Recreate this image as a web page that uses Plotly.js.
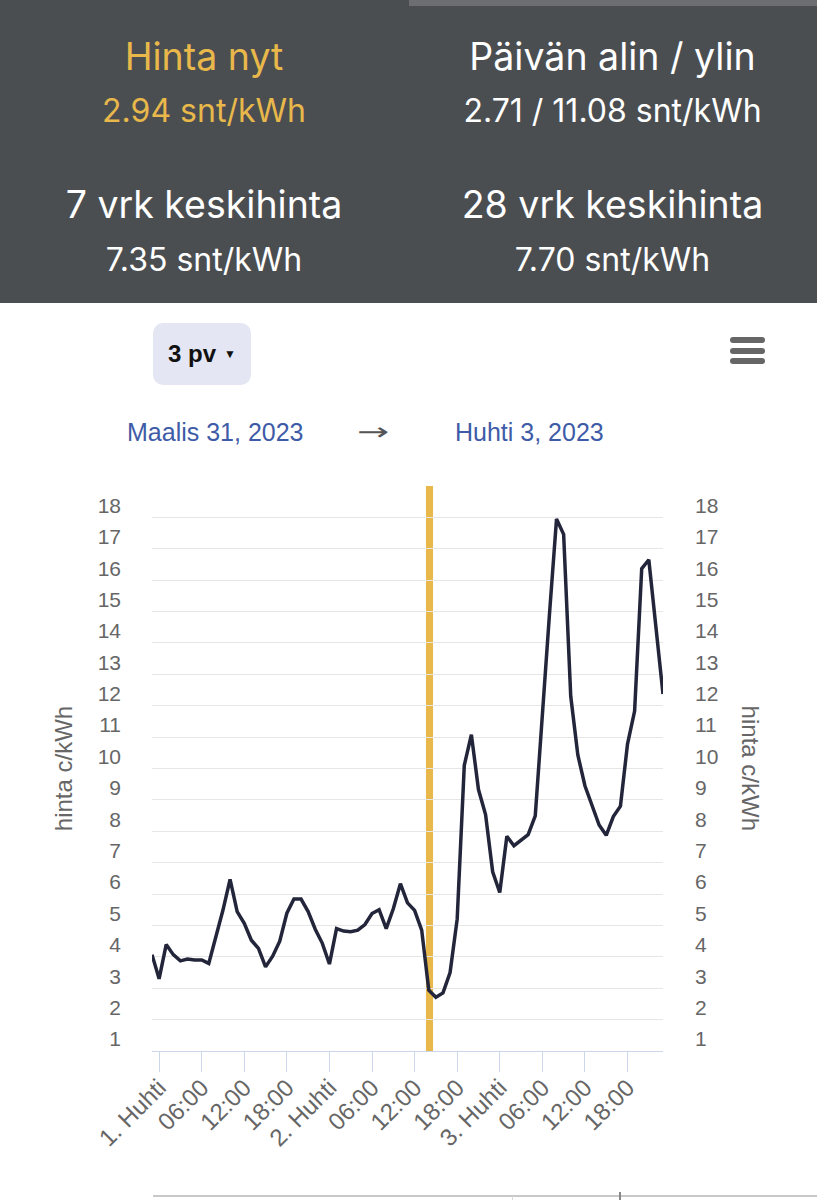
<!DOCTYPE html>
<html>
<head>
<meta charset="utf-8">
<script src="https://cdn.plot.ly/plotly-3.0.1.min.js"></script>
<style>
  html, body { margin:0; padding:0; background:#fff; width:817px; height:1200px; overflow:hidden; }
  #header { position:absolute; left:0; top:0; width:817px; height:303px; background:#4b4e51; }
  #topbar { position:absolute; left:409px; top:0; width:408px; height:6px; background:#6c6e71; }
  .stat { position:absolute; text-align:center; font-family:Inter, Roboto, sans-serif; color:#fff; white-space:nowrap; line-height:1; }
  .colL { left:0; width:408px; }
  .colR { left:408px; width:409px; }
  .t { font-size:37.5px; }
  .v { font-size:32px; }
  .gold { color:#e8b84b; }
  #dd { position:absolute; left:153px; top:323px; width:98px; height:62px; background:#e4e6f4; border-radius:10px;
        display:flex; align-items:center; justify-content:center; font-family:"Liberation Sans", Arial, sans-serif;
        font-weight:bold; font-size:24px; color:#111; }
  #dd .arr { font-size:12px; margin-left:8px; }
  .bar { position:absolute; left:730px; width:35px; height:6px; border-radius:3px; background:#666; }
  .date { position:absolute; top:420px; font-family:"Liberation Sans", Arial, sans-serif; font-size:25px; line-height:1; color:#3e5ba7; white-space:nowrap; }
  #arrow { position:absolute; top:420px; left:357px; width:32px; text-align:center; font-family:"DejaVu Sans", sans-serif; font-size:24px; line-height:1;
           color:#555; transform:scaleX(1.6); transform-origin:center; }
  #chart { position:absolute; left:0; top:470px; width:817px; height:730px; }
  #navline { position:absolute; left:153px; top:1195px; width:664px; height:1.5px; background:#c8c8c8; }
  #nav1 { position:absolute; left:512px; top:1196px; width:1px; height:4px; background:#d8d8d8; }
  #nav2 { position:absolute; left:619px; top:1192px; width:1.5px; height:8px; background:#888; }
</style>
</head>
<body>
<div id="header">
  <div id="topbar"></div>
  <div class="stat colL t gold" style="top:38px;">Hinta nyt</div>
  <div class="stat colL v gold" style="top:95px;">2.94 snt/kWh</div>
  <div class="stat colR t" style="top:38px;">Päivän alin / ylin</div>
  <div class="stat colR v" style="top:95px;">2.71 / 11.08 snt/kWh</div>
  <div class="stat colL t" style="top:186px;">7 vrk keskihinta</div>
  <div class="stat colL v" style="top:244px;">7.35 snt/kWh</div>
  <div class="stat colR t" style="top:186px;">28 vrk keskihinta</div>
  <div class="stat colR v" style="top:244px;">7.70 snt/kWh</div>
</div>
<div id="dd">3 pv<span class="arr">▼</span></div>
<div class="bar" style="top:337px;"></div>
<div class="bar" style="top:347.5px;"></div>
<div class="bar" style="top:358px;"></div>
<div class="date" style="left:127px;">Maalis 31, 2023</div>
<div id="arrow">→</div>
<div class="date" style="left:455px;">Huhti 3, 2023</div>
<div id="chart"></div>
<div id="navline"></div>
<div id="nav1"></div>
<div id="nav2"></div>
<script>
// Hourly prices (c/kWh), first value is 31.3.2023 23:00, last 3.4.2023 23:00
const firstHour = [2023, 2, 31, 23];  // year, month index, day, hour
const prices = [
  4.07,                                                       // 31.3 23:00
  3.30, 4.39, 4.07, 3.87, 3.93, 3.90, 3.90, 3.79, 4.64, 5.49, 6.47, 5.44,   // 1.4 00-11
  5.07, 4.53, 4.27, 3.68, 4.02, 4.50, 5.39, 5.84, 5.84, 5.44, 4.88, 4.43,   // 1.4 12-23
  3.77, 4.90, 4.82, 4.80, 4.85, 5.03, 5.38, 5.50, 4.90, 5.53, 6.33, 5.72,   // 2.4 00-11
  5.48, 4.85, 2.94, 2.71, 2.85, 3.50, 5.20, 10.10, 11.08, 9.33, 8.53, 6.71, // 2.4 12-23
  6.05, 7.84, 7.54, 7.73, 7.89, 8.49, 11.90, 14.90, 17.95, 17.46, 12.30, 10.43, // 3.4 00-11
  9.45, 8.85, 8.20, 7.87, 8.47, 8.80, 10.78, 11.83, 16.37, 16.65, 14.50, 12.37  // 3.4 12-23
];
const tickTimes = ['2023-04-01 00:00','2023-04-01 06:00','2023-04-01 12:00','2023-04-01 18:00',
                   '2023-04-02 00:00','2023-04-02 06:00','2023-04-02 12:00','2023-04-02 18:00',
                   '2023-04-03 00:00','2023-04-03 06:00','2023-04-03 12:00','2023-04-03 18:00'];
const tickLabels = ['1. Huhti','06:00','12:00','18:00','2. Huhti','06:00','12:00','18:00','3. Huhti','06:00','12:00','18:00'];
const yTicks = [1,2,3,4,5,6,7,8,9,10,11,12,13,14,15,16,17,18,19];
const yLabels = ['1','2','3','4','5','6','7','8','9','10','11','12','13','14','15','16','17','18',''];
const nowStart = '2023-04-02 13:36';
const nowEnd = '2023-04-02 14:36';
const rangeStart = '2023-03-31 23:00';
const rangeEnd = '2023-04-03 23:00';

function pad(n){ return (n<10?'0':'') + n; }
const times = prices.map((_, i) => {
  const d = new Date(Date.UTC(firstHour[0], firstHour[1], firstHour[2], firstHour[3] + i));
  return d.getUTCFullYear() + '-' + pad(d.getUTCMonth()+1) + '-' + pad(d.getUTCDate()) + ' ' + pad(d.getUTCHours()) + ':00';
});

const labelFont = { family: '"Liberation Sans", Arial, sans-serif', size: 21, color: '#666666' };

const traces = [
  { x: times, y: prices, type: 'scatter', mode: 'lines', xaxis: 'x', yaxis: 'y',
    line: { color: '#23263b', width: 3.5 }, hoverinfo: 'skip', showlegend: false },
  { x: times, y: prices, type: 'scatter', mode: 'lines', xaxis: 'x2', yaxis: 'y2',
    line: { color: 'rgba(0,0,0,0)', width: 0 }, hoverinfo: 'skip', showlegend: false }
];

const layout = {
  width: 817, height: 730,
  margin: { l: 152, r: 154, t: 16, b: 149 },
  paper_bgcolor: 'rgba(0,0,0,0)', plot_bgcolor: '#ffffff',
  showlegend: false,
  xaxis: {
    type: 'date', range: [rangeStart, rangeEnd],
    tickmode: 'array', tickvals: tickTimes, ticktext: tickLabels, tickangle: -45,
    ticks: 'outside', ticklen: 12, tickwidth: 1, tickcolor: 'rgba(0,0,0,0)',
    showline: true, linecolor: '#ccd6eb', linewidth: 1,
    showgrid: false, zeroline: false,
    tickfont: { family: '"Liberation Sans", Arial, sans-serif', size: 24, color: '#666666' }
  },
  xaxis2: {
    type: 'date', range: [rangeStart, rangeEnd], overlaying: 'x', side: 'bottom', anchor: 'y2',
    tickmode: 'array', tickvals: tickTimes, showticklabels: false,
    ticks: 'outside', ticklen: 20, tickwidth: 1, tickcolor: '#ccd6eb',
    showline: false, showgrid: false, zeroline: false
  },
  yaxis: {
    range: [1, 19], tickmode: 'array', tickvals: yTicks, ticktext: yLabels,
    showgrid: true, gridcolor: '#e6e6e6', gridwidth: 1, zeroline: false, showline: false,
    ticks: '', ticklabelshift: -12, ticklabelstandoff: 30, tickfont: labelFont,
    title: { text: 'hinta c/kWh', font: { family: '"Liberation Sans", Arial, sans-serif', size: 24, color: '#666666' }, standoff: 18 }
  },
  yaxis2: {
    overlaying: 'y', side: 'right', anchor: 'x2', range: [1, 19], tickmode: 'array', tickvals: yTicks, ticktext: yLabels,
    showgrid: false, zeroline: false, showline: false,
    ticks: '', ticklabelshift: -12, ticklabelstandoff: 31, tickfont: labelFont
  },
  shapes: [
    { type: 'rect', xref: 'x', yref: 'y', x0: nowStart, x1: nowEnd, y0: 1, y1: 19,
      fillcolor: '#e8b84b', line: { width: 0 }, layer: 'below' }
  ],
  annotations: [
    { text: 'hinta c/kWh', xref: 'paper', yref: 'paper', x: 1.172, y: 0.5, xanchor: 'center', yanchor: 'middle',
      showarrow: false, textangle: 90,
      font: { family: '"Liberation Sans", Arial, sans-serif', size: 24, color: '#666666' } }
  ]
};

Plotly.newPlot('chart', traces, layout, { staticPlot: true, displayModeBar: false });
</script>
</body>
</html>
